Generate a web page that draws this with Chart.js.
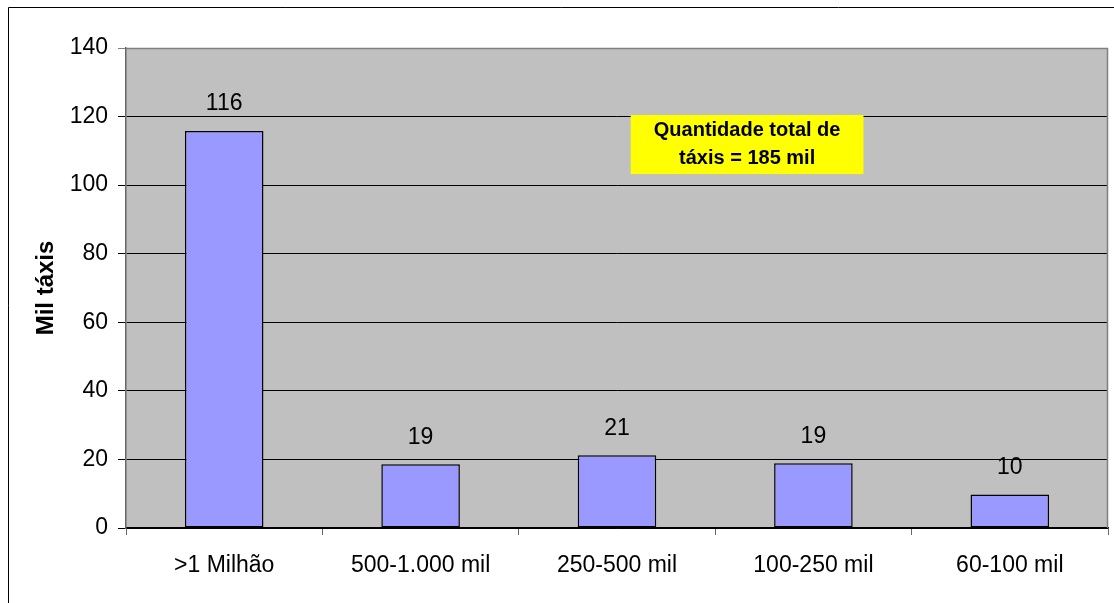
<!DOCTYPE html>
<html>
<head>
<meta charset="utf-8">
<script src="https://cdn.jsdelivr.net/npm/chart.js@4/dist/chart.umd.min.js"></script>
<style>
  html, body { margin: 0; padding: 0; background: #fff; }
  #wrap { width: 1114px; height: 603px; position: relative; }
</style>
</head>
<body>
<div id="wrap"><canvas id="c" width="1114" height="603"></canvas></div>
<script>
const categories = ['>1 Milhão', '500-1.000 mil', '250-500 mil', '100-250 mil', '60-100 mil'];
const values = [115.8, 18.6, 21.2, 18.9, 9.8];
const yTicks = [0, 20, 40, 60, 80, 100, 120, 140];
const yTitle = 'Mil táxis';
const noteLines = ['Quantidade total de', 'táxis = 185 mil'];

Chart.defaults.font.family = "Arial, 'Liberation Sans', sans-serif";
Chart.defaults.color = '#000';

const decor = {
  id: 'decor',
  beforeDraw(chart) {
    const ctx = chart.ctx, a = chart.chartArea;
    ctx.save();
    ctx.fillStyle = '#fff';
    ctx.fillRect(0, 0, chart.width, chart.height);
    ctx.strokeStyle = '#000';
    ctx.lineWidth = 1;
    ctx.beginPath();
    ctx.moveTo(8.5, chart.height + 5);
    ctx.lineTo(8.5, 7.5);
    ctx.lineTo(chart.width + 5, 7.5);
    ctx.stroke();
    ctx.fillStyle = '#C0C0C0';
    ctx.fillRect(a.left, a.top, a.right - a.left, a.bottom - a.top);
    ctx.restore();
  },
  afterDraw(chart) {
    const ctx = chart.ctx, a = chart.chartArea;
    ctx.save();
    ctx.strokeStyle = '#808080';
    ctx.lineWidth = 1.5;
    ctx.beginPath();
    ctx.moveTo(a.left, a.top + 0.5);
    ctx.lineTo(a.right - 0.5, a.top + 0.5);
    ctx.lineTo(a.right - 0.5, a.bottom);
    ctx.stroke();
    const meta = chart.getDatasetMeta(0);
    ctx.fillStyle = '#000';
    ctx.font = "23px Arial, 'Liberation Sans', sans-serif";
    ctx.textAlign = 'center';
    ctx.textBaseline = 'middle';
    meta.data.forEach((bar, i) => {
      ctx.fillText(String(Math.round(values[i])), bar.x, bar.y - 27);
    });
    const w = a.right - a.left, h = a.bottom - a.top;
    const bx = a.left + w * 0.514, by = a.top + h * 0.1396;
    const bw = w * 0.237, bh = h * 0.123;
    ctx.fillStyle = '#FFFF00';
    ctx.fillRect(bx, by, bw, bh);
    ctx.fillStyle = '#000';
    ctx.font = "bold 20px Arial, 'Liberation Sans', sans-serif";
    const cx = bx + bw / 2;
    ctx.fillText(noteLines[0], cx, by + bh * 0.26);
    ctx.fillText(noteLines[1], cx, by + bh * 0.73);
    ctx.restore();
  }
};

new Chart(document.getElementById('c'), {
  type: 'bar',
  data: {
    labels: categories,
    datasets: [{
      data: values,
      backgroundColor: '#9999FF',
      borderColor: '#000',
      borderWidth: 1.5,
      borderSkipped: false,
      barPercentage: 0.4,
      categoryPercentage: 1.0
    }]
  },
  options: {
    responsive: false,
    animation: false,
    devicePixelRatio: 1,
    layout: { padding: { left: 0, top: 48, right: 6, bottom: 0 } },
    plugins: { legend: { display: false }, tooltip: { enabled: false } },
    scales: {
      x: {
        afterFit(scale) { scale.height = 75; },
        grid: {
          offset: true,
          drawOnChartArea: false,
          drawTicks: true,
          tickLength: 7,
          color: '#666',
          lineWidth: 1
        },
        border: { color: '#000', width: 1.5 },
        ticks: { padding: 17, font: { size: 23 }, color: '#000', maxRotation: 0 }
      },
      y: {
        min: 0,
        max: 140,
        afterFit(scale) { scale.width = 126; },
        afterBuildTicks(scale) { scale.ticks = yTicks.map(v => ({ value: v })); },
        grid: {
          color: (c) => (c.tick && c.tick.value === 140) ? '#808080' : '#000',
          lineWidth: 1,
          tickLength: 8,
          drawTicks: true
        },
        border: { color: '#666', width: 1.5 },
        ticks: { padding: 10, font: { size: 23 }, color: '#000' },
        title: {
          display: true,
          text: yTitle,
          font: { size: 24, weight: 'bold' },
          color: '#000',
          padding: { top: 32, bottom: 0 }
        }
      }
    }
  },
  plugins: [decor]
});
</script>
</body>
</html>
